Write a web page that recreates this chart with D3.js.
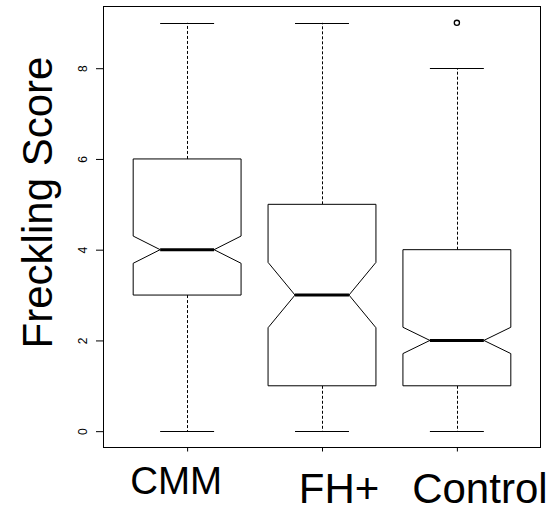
<!DOCTYPE html>
<html>
<head>
<meta charset="utf-8">
<script src="https://cdn.jsdelivr.net/npm/d3@7"></script>
<style>
  html, body { margin: 0; padding: 0; background: #fff; }
  svg { display: block; font-family: "Liberation Sans", Arial, Helvetica, sans-serif; }
</style>
</head>
<body>
<svg id="chart" width="551" height="508"></svg>
<script>
// ---- data ----
const categories   = ["CMM", "FH+", "Control"];
const whiskerLow   = [0, 0, 0];
const q1           = [3, 1, 1];
const median       = [4, 3, 2];
const q3           = [6, 5, 4];
const whiskerHigh  = [9, 9, 8];
const notchLow     = [3.70, 2.28, 1.71];
const notchHigh    = [4.30, 3.72, 2.29];
const outliers     = [[], [], [9]];
const yTicks       = [0, 2, 4, 6, 8];
const yLabel       = "Freckling Score";

// ---- layout (styling, not data) ----
const labelOffsetPx = [-11, 17, 23];
const labelBaseline = [494, 503, 503];
const labelSize     = [38.5, 42, 42];

const svg = d3.select("#chart");
const plot = { left: 103.5, right: 540.5, top: 6.5, bottom: 447.5 };

const x = d3.scaleLinear().domain([0.38, 3.62]).range([plot.left, plot.right]);
const y = d3.scaleLinear().domain([-0.36, 9.36]).range([plot.bottom, plot.top]);

const boxHalf = x(1.4) - x(1);
const capHalf = x(1.2) - x(1);

const data = categories.map((c, i) => ({
  c, i, pos: i + 1,
  lo: whiskerLow[i], q1: q1[i], med: median[i], q3: q3[i], hi: whiskerHigh[i],
  nlo: notchLow[i], nhi: notchHigh[i], out: outliers[i]
}));

const g = svg.append("g");

data.forEach(d => {
  const cx = x(d.pos);
  const L = cx - boxHalf, R = cx + boxHalf;
  const crispX = Math.round(cx) + 0.5;

  // whiskers (dashed)
  g.append("line").attr("x1", crispX).attr("x2", crispX)
    .attr("y1", y(d.q3)).attr("y2", y(d.hi))
    .attr("stroke", "#000").attr("stroke-width", 1).attr("stroke-dasharray", "3,2");
  g.append("line").attr("x1", crispX).attr("x2", crispX)
    .attr("y1", y(d.q1)).attr("y2", y(d.lo))
    .attr("stroke", "#000").attr("stroke-width", 1).attr("stroke-dasharray", "3,2");

  // caps
  [d.lo, d.hi].forEach(v => {
    g.append("line").attr("x1", cx - capHalf).attr("x2", cx + capHalf)
      .attr("y1", Math.round(y(v)) + 0.5).attr("y2", Math.round(y(v)) + 0.5)
      .attr("stroke", "#000").attr("stroke-width", 1);
  });

  // notched box
  const pts = [
    [L, y(d.q3)], [L, y(d.nhi)], [cx - boxHalf / 2, y(d.med)], [L, y(d.nlo)], [L, y(d.q1)],
    [R, y(d.q1)], [R, y(d.nlo)], [cx + boxHalf / 2, y(d.med)], [R, y(d.nhi)], [R, y(d.q3)]
  ];
  g.append("path").attr("d", d3.line()(pts) + "Z")
    .attr("fill", "#fff").attr("stroke", "#000").attr("stroke-width", 1);

  // median
  g.append("line").attr("x1", cx - boxHalf / 2).attr("x2", cx + boxHalf / 2)
    .attr("y1", y(d.med)).attr("y2", y(d.med))
    .attr("stroke", "#000").attr("stroke-width", 3);

  // outliers
  d.out.forEach(v => {
    g.append("circle").attr("cx", cx).attr("cy", y(v)).attr("r", 2.6)
      .attr("fill", "none").attr("stroke", "#000").attr("stroke-width", 1.3);
  });
});

// frame
svg.append("rect").attr("x", plot.left).attr("y", plot.top)
  .attr("width", plot.right - plot.left).attr("height", plot.bottom - plot.top)
  .attr("fill", "none").attr("stroke", "#000").attr("stroke-width", 1);

// y axis
const yAxis = svg.append("g").attr("transform", `translate(${plot.left},0)`)
  .call(d3.axisLeft(y).tickValues(yTicks).tickSize(7.5).tickFormat(d3.format("d")));
yAxis.select(".domain").remove();
yAxis.selectAll(".tick line").attr("stroke", "#000");
yAxis.selectAll(".tick text")
  .attr("x", null).attr("dy", null)
  .attr("text-anchor", "middle")
  .attr("transform", "translate(-17,0) rotate(-90)")
  .attr("font-size", 12).attr("font-family", "'Liberation Sans', Arial, sans-serif")
  .attr("fill", "#000");

// x axis ticks
const xAxis = svg.append("g").attr("transform", `translate(0,${plot.bottom})`)
  .call(d3.axisBottom(x).tickValues([1, 2, 3]).tickSize(4).tickFormat(""));
xAxis.select(".domain").remove();
xAxis.selectAll(".tick line").attr("stroke", "#000");

// x labels
categories.forEach((c, i) => {
  svg.append("text")
    .attr("x", x(i + 1) + labelOffsetPx[i])
    .attr("y", labelBaseline[i])
    .attr("text-anchor", "middle")
    .attr("font-size", labelSize[i])
    .attr("fill", "#000")
    .text(c);
});

// y label
svg.append("text")
  .attr("transform", "translate(51.5,202.5) rotate(-90)")
  .attr("text-anchor", "middle")
  .attr("font-size", 42)
  .attr("fill", "#000")
  .text(yLabel);
</script>
</body>
</html>
